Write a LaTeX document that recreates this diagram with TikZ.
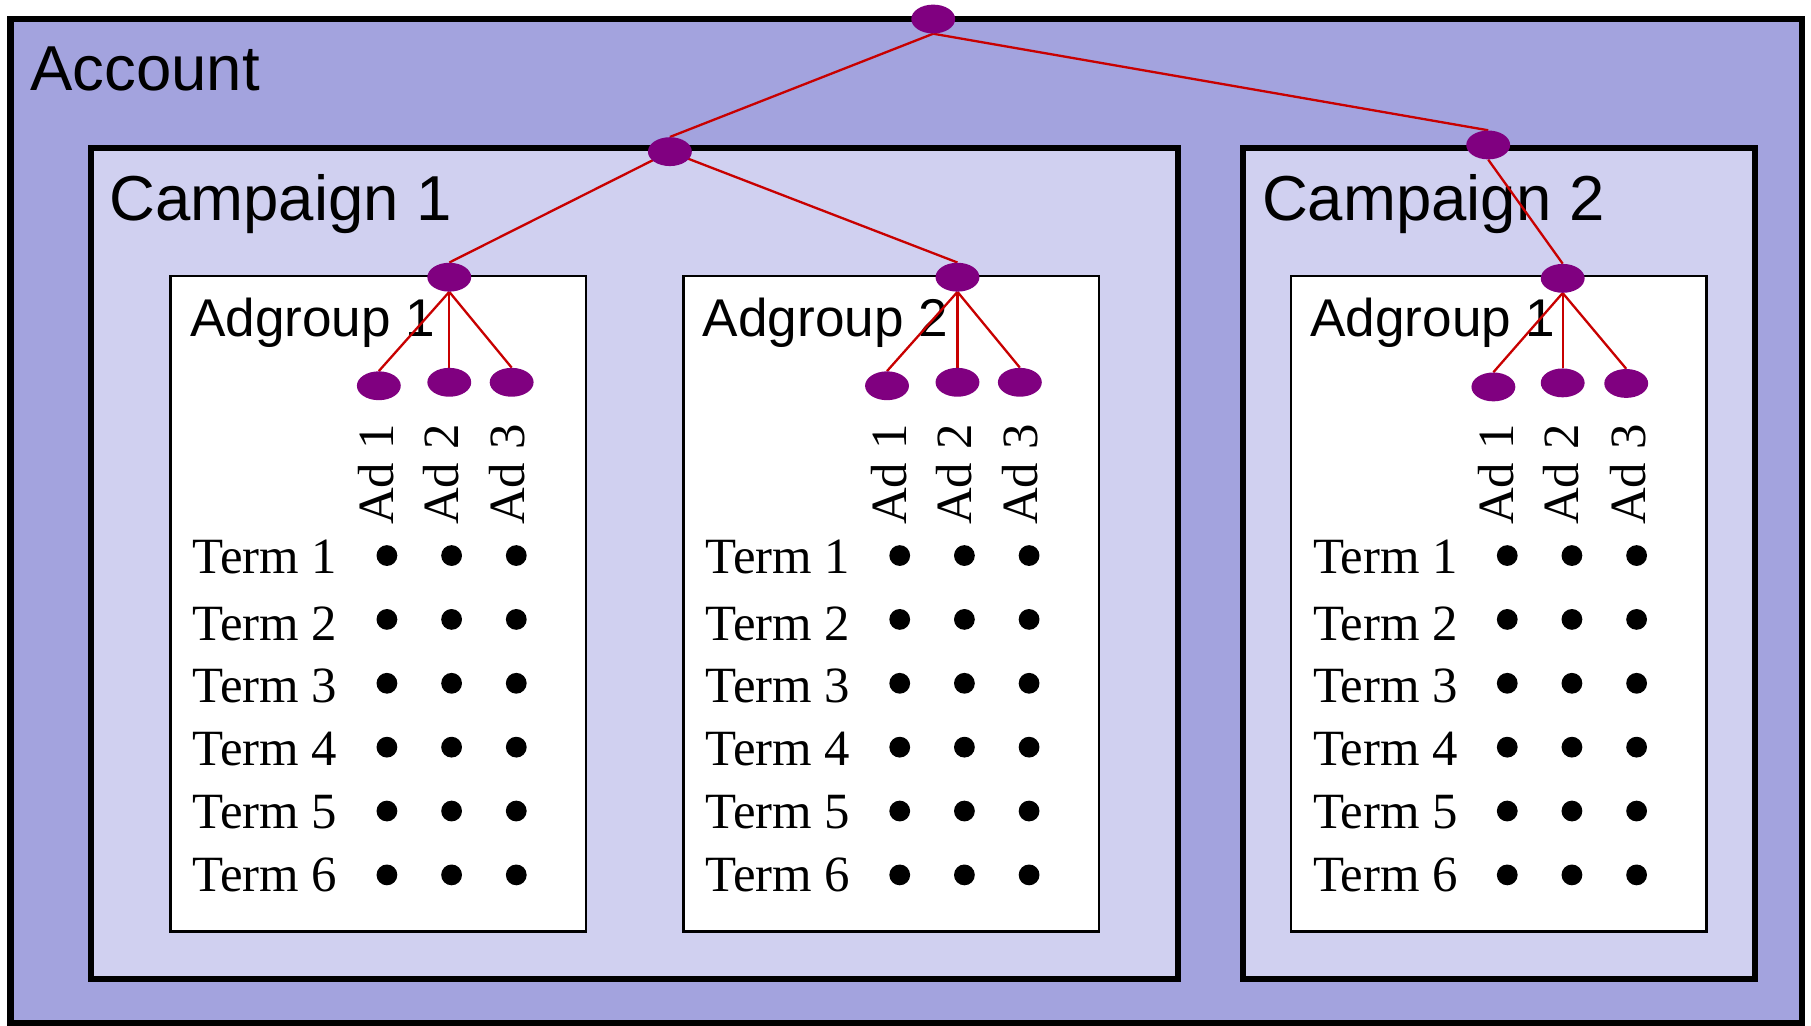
\documentclass[tikz,border=0pt]{standalone}
\usepackage{fontspec}
\setmainfont{Liberation Serif}
\setsansfont{Liberation Sans}
\usetikzlibrary{shapes.geometric}
\pgfdeclarelayer{boxes}
\pgfdeclarelayer{links}
\pgfsetlayers{boxes,links,main}
\definecolor{acctfill}{RGB}{163,163,222}
\definecolor{campfill}{RGB}{208,208,240}
\definecolor{nodepurple}{RGB}{128,0,128}
\definecolor{linkred}{RGB}{200,0,0}
\begin{document}
\begin{tikzpicture}[x=1pt,y=-1pt,
  acctbox/.style={draw=black,line width=5.5pt,fill=acctfill},
  campbox/.style={draw=black,line width=5pt,fill=campfill},
  agbox/.style={draw=black,line width=2.3pt,fill=white},
  treenode/.style={ellipse,fill=nodepurple,minimum width=38pt,minimum height=25pt,inner sep=0pt},
  linkline/.style={draw=linkred,line width=2pt},
  bigtext/.style={anchor=base west,inner sep=0pt,font=\sffamily\fontsize{55}{60}\selectfont},
  agtext/.style={anchor=base west,inner sep=0pt,font=\sffamily\fontsize{46}{52}\selectfont},
  termtext/.style={anchor=base west,inner sep=0pt,font=\fontsize{44}{50}\selectfont},
  adtext/.style={anchor=base west,inner sep=0pt,rotate=90,font=\fontsize{44}{50}\selectfont},
  termdot/.style={circle,fill=black,minimum size=18pt,inner sep=0pt}]

\useasboundingbox (0,0) rectangle (1568,888);

\begin{pgfonlayer}{boxes}
  \fill[white] (0,0) rectangle (1568,888);
  \path[acctbox] (9.2,16.7) rectangle (1560,886);
  \path[campbox] (78.6,128) rectangle (1020,847.7);
  \path[campbox] (1076,128) rectangle (1519.6,847.7);
  \node[bigtext] (accountlabel) at (26,78.5) {Account};
  \node[bigtext] (camponelabel) at (94.5,190.5) {Campaign 1};
  \node[bigtext] (camptwolabel) at (1092.5,190.5) {Campaign 2};
  \foreach \g/\dx/\lab in {a/0/1, b/444/2, c/970/1}{
    \begin{scope}[xshift=\dx pt]
      \path[agbox] (147.8,239) rectangle (507.5,806.4);
      \node[agtext] (ag\g label) at (164.4,291.5) {Adgroup \lab};
    \end{scope}
  }
\end{pgfonlayer}

\foreach \g/\dx in {a/0, b/444, c/970}{
  \begin{scope}[xshift=\dx pt]
    \foreach \i/\ax in {1/340.5, 2/396.8, 3/454.5}
      \node[adtext] (ad\g\i label) at (\ax,454.5) {Ad \i};
    \foreach \r/\tb in {1/496.4, 2/554.5, 3/608.5, 4/662.5, 5/717, 6/771.5}{
      \node[termtext] (term\g\r) at (166.7,\tb) {Term \r};
      \foreach \i/\cx in {1/335, 2/391, 3/447}
        \node[termdot] (dot\g\r\i) at (\cx,{481+55.3*(\r-1)}) {};
    }
  \end{scope}
}

% tree nodes
\node[treenode] (root) at (808,16.5) {};
\node[treenode] (cone) at (580,131.3) {};
\node[treenode] (ctwo) at (1288.5,125.5) {};
\node[treenode] (aga) at (389,240) {};
\node[treenode] (agb) at (829,240) {};
\node[treenode] (agc) at (1353,241) {};
\node[treenode] (ada1) at (328,334) {};
\node[treenode] (ada2) at (389,331) {};
\node[treenode] (ada3) at (443,331) {};
\node[treenode] (adb1) at (768,334) {};
\node[treenode] (adb2) at (829,331) {};
\node[treenode] (adb3) at (883,331) {};
\node[treenode] (adc1) at (1293,335) {};
\node[treenode] (adc2) at (1353,331.5) {};
\node[treenode] (adc3) at (1408,332) {};

\begin{pgfonlayer}{links}
  \draw[linkline] (root.south) -- (cone.north);
  \draw[linkline] (root.south) -- (ctwo.north);
  \draw[linkline] (cone.center) -- (aga.north);
  \draw[linkline] (cone.center) -- (agb.north);
  \draw[linkline] (ctwo.south) -- (agc.north);
  \foreach \g in {a,b,c}{
    \foreach \i in {1,2,3}
      \draw[linkline] (ag\g.south) -- (ad\g\i.north);
  }
\end{pgfonlayer}
\end{tikzpicture}
\end{document}
